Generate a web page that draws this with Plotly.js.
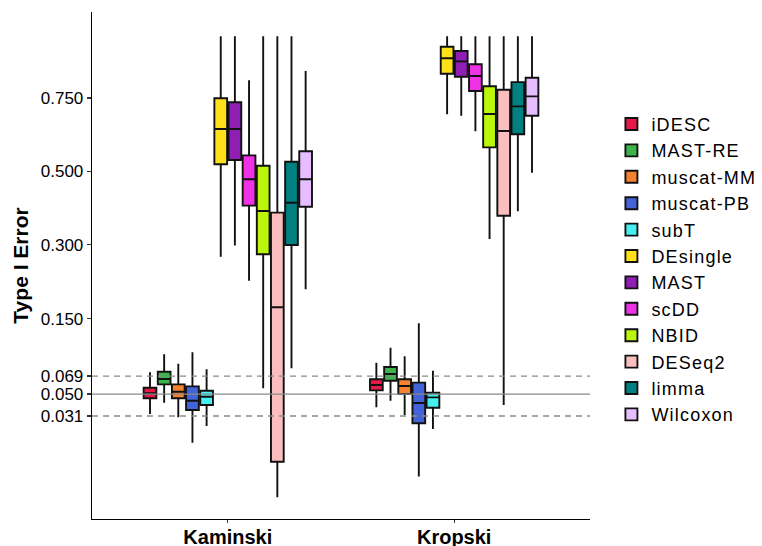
<!DOCTYPE html>
<html><head><meta charset="utf-8">
<script src="https://cdn.plot.ly/plotly-3.0.1.min.js"></script>
<style>html,body{margin:0;padding:0;background:#fff}#chart{width:762px;height:546px}.legendtext{letter-spacing:1.2px}</style>
</head><body><div id="chart"></div>
<script>
const datasets = ['Kaminski', 'Kropski'];
const methods = ['iDESC','MAST-RE','muscat-MM','muscat-PB','subT','DEsingle','MAST','scDD','NBID','DESeq2','limma','Wilcoxon'];
const colors = ['#e6194b','#3cb44b','#f58231','#4363d8','#46f0f0','#ffe119','#911eb4','#f032e6','#bcf60c','#fabebe','#008080','#e6beff'];

// Kaminski summaries (per method)
const kaminskiLow    = [0.0325, 0.042, 0.030, 0.0139, 0.0238, 0.272, 0.298, 0.2205, 0.0557, 0.0, 0.0781, 0.2033];
const kaminskiQ1     = [0.046, 0.0599, 0.046, 0.0358, 0.040, 0.5216, 0.535, 0.400, 0.2776, 0.0059, 0.2993, 0.397];
const kaminskiMedian = [0.0508, 0.0657, 0.0523, 0.0438, 0.0475, 0.638, 0.638, 0.4756, 0.3854, 0.1697, 0.408, 0.4756];
const kaminskiQ3     = [0.0564, 0.0741, 0.0599, 0.0578, 0.0533, 0.749, 0.734, 0.550, 0.517, 0.381, 0.5297, 0.563];
const kaminskiHigh   = [0.0734, 0.096, 0.0838, 0.0988, 0.0769, 1.0, 1.0, 0.818, 1.0, 1.0, 1.0, 0.855];

// Kropski summaries (per method)
const kropskiLow    = [0.038, 0.0438, 0.0318, 0.002, 0.0218, 0.690, 0.685, 0.630, 0.3137, 0.040, 0.385, 0.4955];
const kropskiQ1     = [0.0537, 0.0638, 0.0501, 0.0257, 0.0376, 0.844, 0.832, 0.7765, 0.576, 0.3728, 0.620, 0.685];
const kropskiMedian = [0.0592, 0.0714, 0.0581, 0.0417, 0.0469, 0.9065, 0.894, 0.835, 0.691, 0.631, 0.719, 0.756];
const kropskiQ3     = [0.0654, 0.0797, 0.0654, 0.0617, 0.0513, 0.955, 0.937, 0.882, 0.7946, 0.7815, 0.811, 0.828];
const kropskiHigh   = [0.0851, 0.1051, 0.0934, 0.1423, 0.0752, 1.0, 1.0, 1.0, 1.0, 1.0, 1.0, 1.0];

const yTickValues = [0.031, 0.050, 0.069, 0.150, 0.300, 0.500, 0.750];
const yTickLabels = ['0.031', '0.050', '0.069', '0.150', '0.300', '0.500', '0.750'];
const dashedRefs = [0.031, 0.069];
const solidRef = 0.05;

const sq = v => Math.sqrt(v);
const FONT = 'Liberation Sans, Arial, Helvetica, sans-serif';

const traces = methods.map((m, i) => ({
  type: 'box',
  name: m,
  x: datasets,
  q1: [sq(kaminskiQ1[i]), sq(kropskiQ1[i])],
  median: [sq(kaminskiMedian[i]), sq(kropskiMedian[i])],
  q3: [sq(kaminskiQ3[i]), sq(kropskiQ3[i])],
  lowerfence: [sq(kaminskiLow[i]), sq(kropskiLow[i])],
  upperfence: [sq(kaminskiHigh[i]), sq(kropskiHigh[i])],
  boxpoints: false,
  whiskerwidth: 0,
  fillcolor: colors[i],
  line: {color: '#111', width: 1.9},
  hoverinfo: 'skip'
}));

const shapes = [];
dashedRefs.forEach(v => shapes.push({
  type: 'line', xref: 'paper', yref: 'y', x0: 0, x1: 1, y0: sq(v), y1: sq(v),
  line: {color: '#8a8a8a', width: 1.3, dash: '6px,5px'}
}));
shapes.push({
  type: 'line', xref: 'paper', yref: 'y', x0: 0, x1: 1, y0: sq(solidRef), y1: sq(solidRef),
  line: {color: '#8a8a8a', width: 1.3}
});

const layout = {
  width: 762, height: 546,
  margin: {l: 92, r: 172, t: 12, b: 27, autoexpand: false},
  paper_bgcolor: '#fff', plot_bgcolor: '#fff',
  font: {family: FONT, color: '#000'},
  boxmode: 'group',
  boxgap: 0.25,
  boxgroupgap: 0.1,
  showlegend: true,
  legend: {
    x: 1.043, xanchor: 'left', y: 0.815, yanchor: 'top',
    font: {family: FONT, size: 18, color: '#000'},
    traceorder: 'normal', bgcolor: 'rgba(0,0,0,0)'
  },
  xaxis: {
    type: 'category', range: [-0.6, 1.6],
    showgrid: false, zeroline: false,
    showline: true, linecolor: '#000', linewidth: 1.3,
    ticks: 'outside', ticklen: 3, tickcolor: '#333', tickwidth: 1.2,
    ticklabelstandoff: -3,
    tickfont: {family: FONT, size: 20, color: '#000', weight: 'bold'},
    automargin: false,
    fixedrange: true
  },
  yaxis: {
    range: [-0.0474, 1.0526],
    showgrid: false, zeroline: false,
    showline: true, linecolor: '#000', linewidth: 1.3,
    ticks: 'outside', ticklen: 4, tickcolor: '#333', tickwidth: 1.2,
    tickvals: yTickValues.map(sq), ticktext: yTickLabels,
    tickfont: {family: FONT, size: 17, color: '#000'},
    title: {text: 'Type I Error', font: {family: FONT, size: 21, color: '#000', weight: 'bold'}, standoff: 6},
    automargin: false,
    fixedrange: true
  },
  shapes: shapes
};

Plotly.newPlot('chart', traces, layout, {displayModeBar: false, staticPlot: true});
</script>
</body></html>
